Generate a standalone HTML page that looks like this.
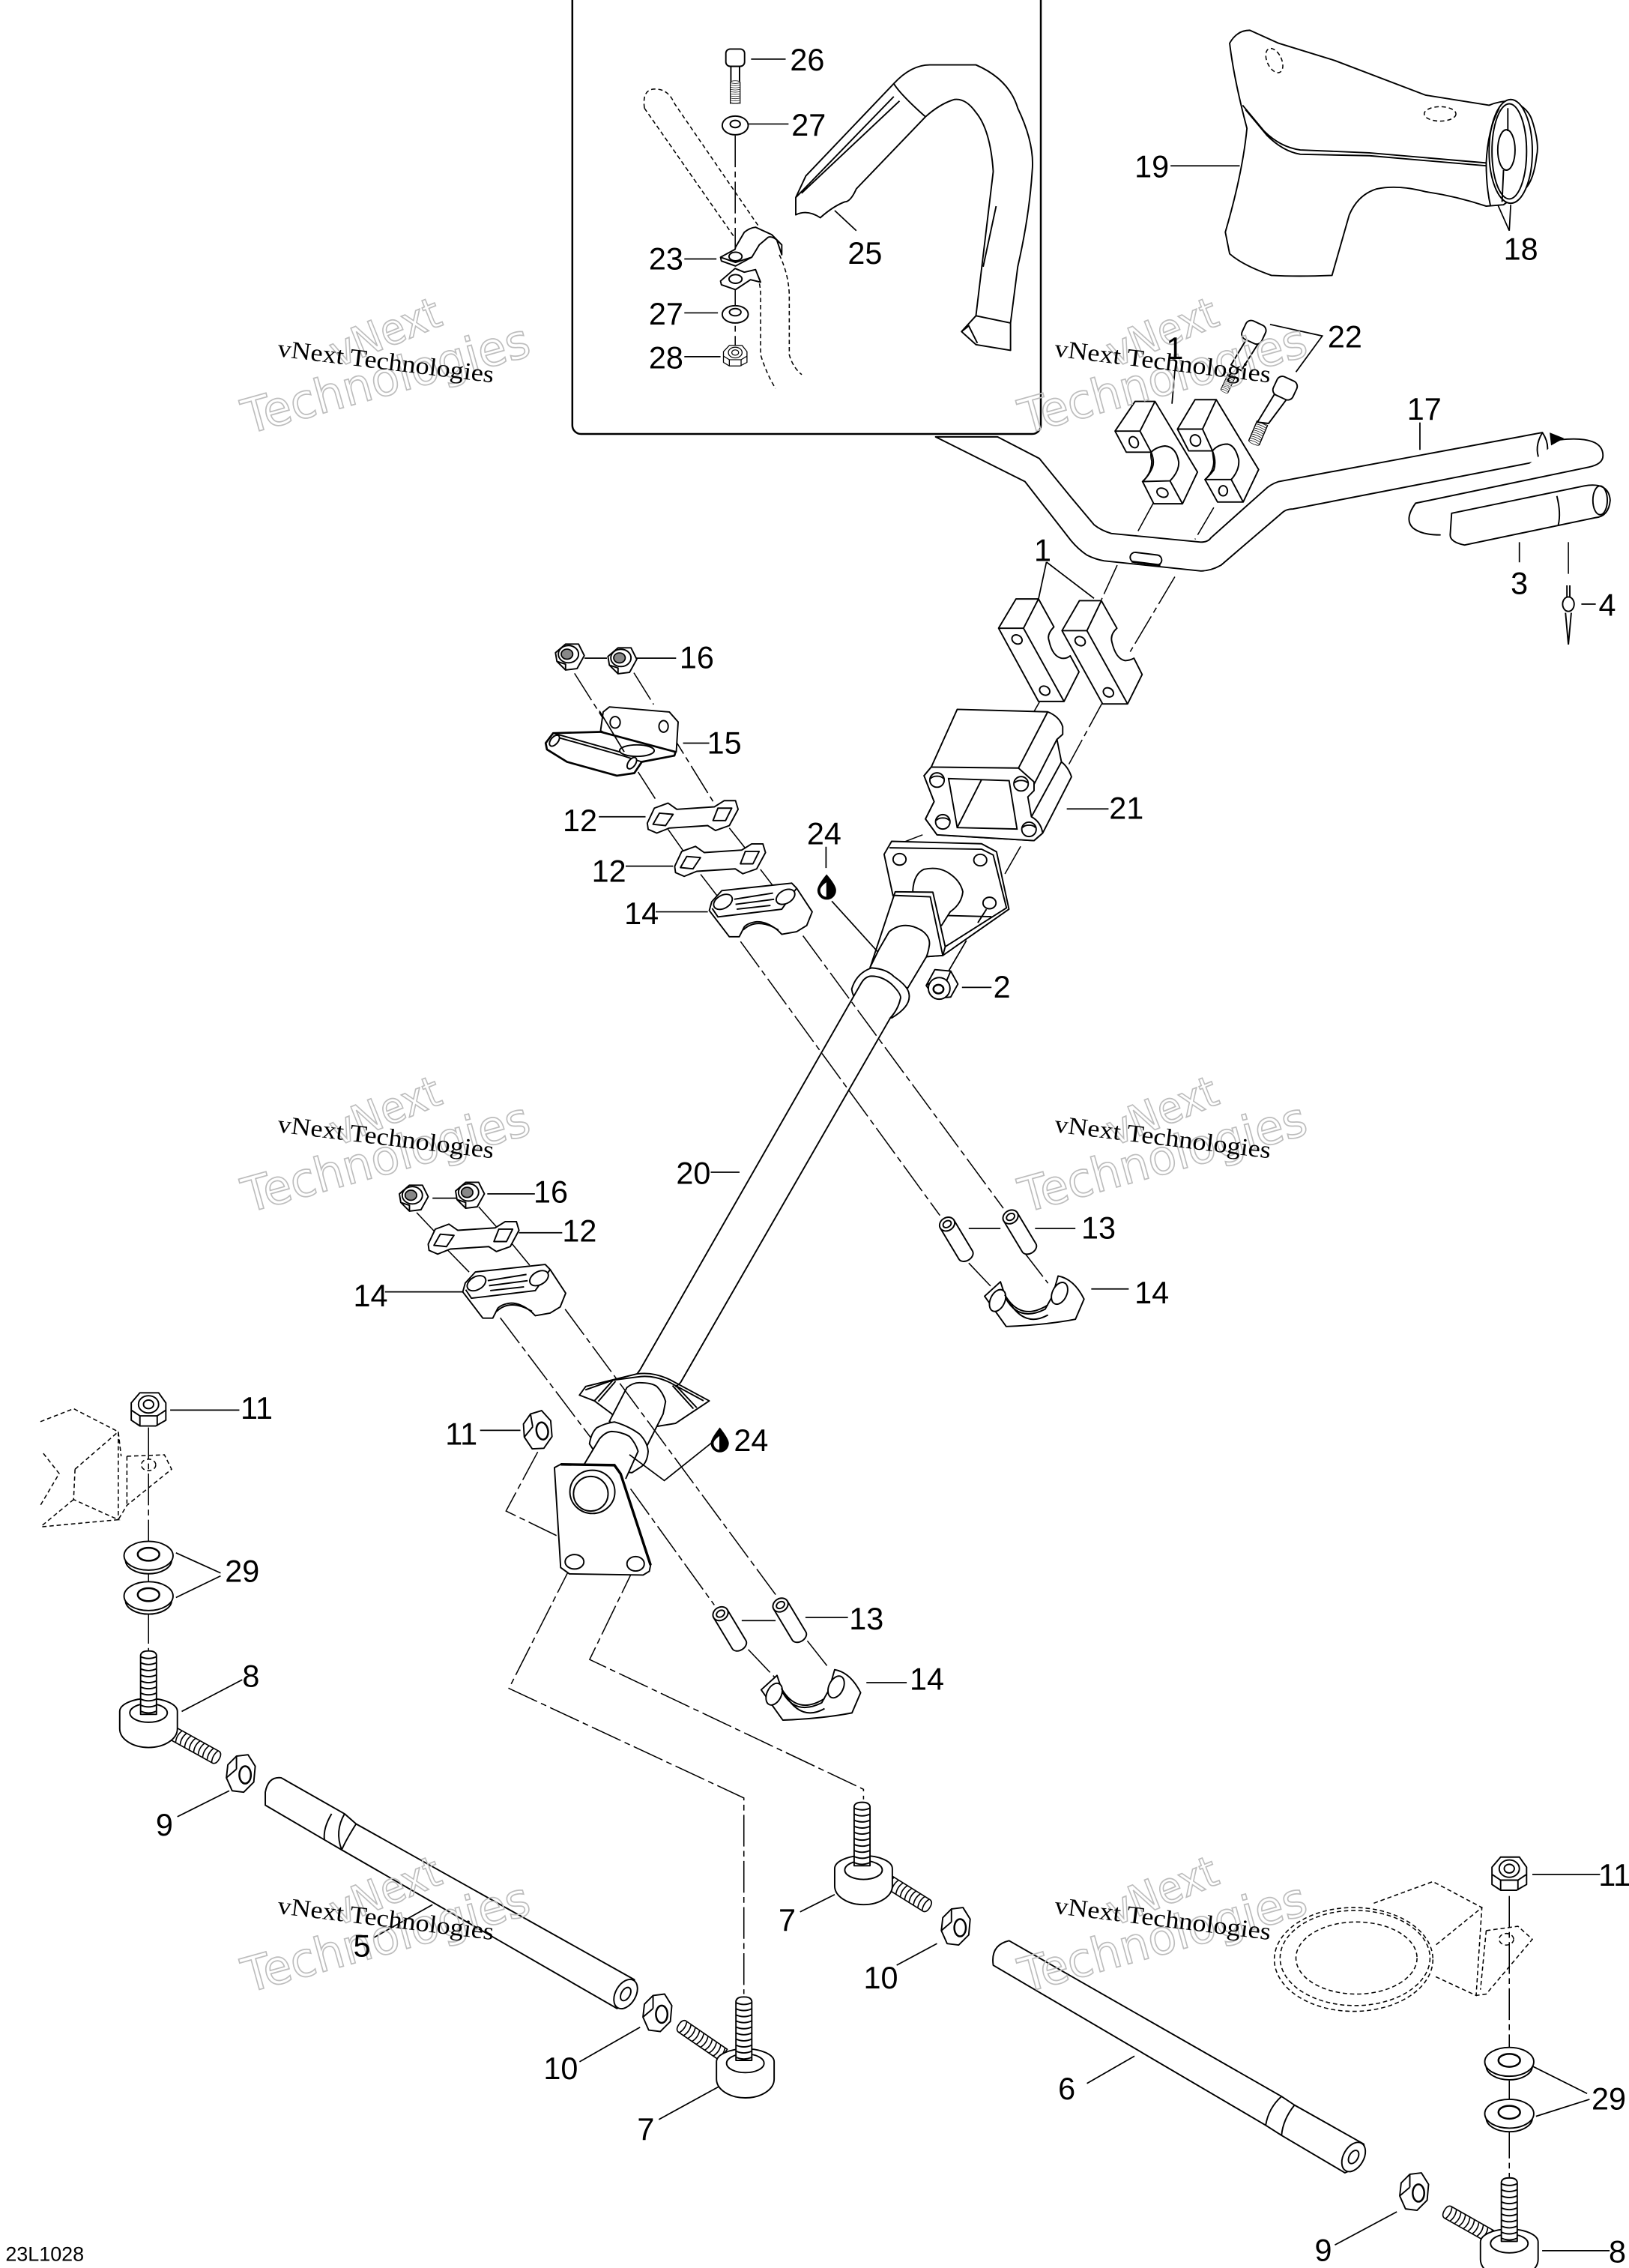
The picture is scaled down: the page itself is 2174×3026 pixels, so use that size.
<!DOCTYPE html>
<html><head><meta charset="utf-8"><style>
html,body{margin:0;padding:0;background:#fff;width:2174px;height:3026px;overflow:hidden}
svg{display:block}
.a{fill:#fff;stroke:#000;stroke-width:1;stroke-linejoin:round;stroke-linecap:round}
.n{fill:none;stroke:#000;stroke-width:1}
.l{fill:none;stroke:#000;stroke-width:.9}
.d{fill:none;stroke:#000;stroke-width:.8;stroke-dasharray:22 3 4 3}
.g{fill:none;stroke:#000;stroke-width:.8;stroke-dasharray:3 2}
.lb text{font-family:"Liberation Sans",sans-serif;font-size:21.5px;text-anchor:middle;fill:#000}
.w1{font-family:"Liberation Serif",serif;font-size:17px;fill:#000}
.w2{font-family:"DejaVu Sans","Liberation Sans",sans-serif;fill:none;stroke:#bdbdbd;stroke-width:.9}
</style></head><body>
<svg width="2174" height="3026" viewBox="0 0 1130 1573" xmlns="http://www.w3.org/2000/svg">
<defs>
<g id="nut"><polygon class="a" points="-5,-10 6,-9 11,0 6,9 -5,10 -11,1"/><circle class="a" cx="-2" cy="3" r="7.500"/><ellipse cx="-2.500" cy="3.500" rx="3.500" ry="3" fill="#fff" stroke="#000" stroke-width="1.300"/><line class="n" x1="6" y1="-9" x2="3" y2="-2"/><line class="n" x1="-11" y1="1" x2="-8" y2="-1"/></g>
<g id="nut16"><polygon class="a" points="-10,-3 -3,-9 6,-9 10,-1 5,8 -3,9 -9,3"/><ellipse class="n" cx="-1" cy="-2" rx="7" ry="6"/><ellipse cx="-2" cy="-2" rx="4" ry="3.500" fill="#888" stroke="#000" stroke-width=".9"/><polyline class="n" points="-9,3 -3,5 -3,9M-3,5 4,3 6,-1"/></g>
<g id="nuts"><polygon class="a" points="-3,-12 5,-13 10,-5 9,6 2,13 -6,12 -10,3 -9,-6"/><line class="n" x1="-10" y1="3" x2="-3" y2="-3"/><line class="n" x1="-3" y1="-12" x2="-3" y2="-3"/><ellipse cx="3" cy="1" rx="4" ry="6" fill="#fff" stroke="#000" stroke-width="1.300"/></g>
<g id="nutf"><polygon class="a" points="-12,-5 -6,-12 7,-12 12,-5 12,7 5,11 -6,11 -12,7"/><line class="n" x1="-6" y1="4" x2="-6" y2="11"/><line class="n" x1="6" y1="4" x2="6" y2="11"/><polyline class="n" points="-12,0 -6,4 6,4 12,0"/><ellipse class="a" cx="0" cy="-4" rx="7" ry="6"/><ellipse class="a" cx="0" cy="-4" rx="3.500" ry="3"/></g>
<g id="wash"><ellipse class="a" cx="0" cy="3" rx="16" ry="9.500"/><ellipse class="a" cx="0" cy="0" rx="17" ry="10"/><ellipse cx="0" cy="-1" rx="7.500" ry="4.500" fill="#fff" stroke="#000" stroke-width="1.300"/></g>
<g id="eye"><path class="a" d="M-20,0 v12 a20,13 0 0 0 40,0 v-12 a20,9 0 0 0 -40,0z"/><ellipse class="n" cx="0" cy="1" rx="13" ry="6.500"/></g>
<g id="th"><path class="a" d="M-5.500,3 Q-5,0 0,0 Q5,0 5.500,3 V44 H-5.500Z"/><path class="n" d="M-5.500,4q5.500,2.500 11,0M-5.500,8.200q5.500,2.500 11,0M-5.500,12.400q5.500,2.500 11,0M-5.500,16.600q5.500,2.500 11,0M-5.500,20.800q5.500,2.500 11,0M-5.500,25q5.500,2.500 11,0M-5.500,29.200q5.500,2.500 11,0M-5.500,33.400q5.500,2.500 11,0M-5.500,37.600q5.500,2.500 11,0M-5.500,41.800q5.500,2.500 11,0"/></g>
<g id="c14"><path class="a" d="M492,631.500 493.700,625.400 500.700,617.700 549.200,612.500 552.600,616 563.400,632.400 559.600,641.900 552.600,646.200 542.300,648 539.700,645.400 Q532,639 524.900,639.300 Q519,640 516.300,642.800 L512.800,649.700 505.900,649.700z"/><path class="n" d="M494,630 498,635.900 542.300,630.600 552.600,616M515.500,645Q525,636 540,645"/><ellipse class="a" cx="501.500" cy="625.500" rx="7" ry="4.500" transform="rotate(-30 501.500 625.500)"/><ellipse class="a" cx="544.900" cy="622" rx="7" ry="4.500" transform="rotate(-30 544.900 622)"/><path class="n" d="M509.300,623.700 536.200,619.400M510.200,627.200 537,623.700M511,630.600 534.500,628"/></g>
<g id="c12"><path class="a" d="M449,570.900 453.900,560.500 463.400,557 469.500,561.300 495.500,559.600 502.400,555.300 510.200,555.300 512,561.300 505.900,572.600 496.300,576 491,572.600 464.300,574.300 455.600,577.800 449.600,575.200z"/><polygon class="a" points="457.400,564 466.900,564.800 461.700,572.600 453,571.700"/><polygon class="a" points="498,560.500 507.600,560.500 503.300,569.100 494.600,569.100"/></g>
<g id="c14b"><path class="a" d="M528,1172 539,1162 543,1174 Q552,1190 570,1181 L575,1172 579,1158 Q590,1160 597,1174 L591,1188 Q570,1192 543,1193z"/><ellipse class="a" cx="537" cy="1175" rx="5" ry="8" transform="rotate(25 537 1175)"/><ellipse class="a" cx="580" cy="1170" rx="5" ry="8" transform="rotate(25 580 1170)"/><path class="n" d="M545,1176Q556,1194 572,1185M542,1171Q553,1190 572,1178"/></g>
<g id="sp"><path class="a" d="M-5.500,0 L-5.500,25 a5.500,4 0 0 0 11,0 L5.500,0 a5.500,4 0 0 0 -11,0z"/><ellipse class="a" cx="0" cy="0" rx="5.500" ry="4.500"/><ellipse class="n" cx="0" cy="0" rx="3" ry="2.200"/></g>
</defs>

<!-- handlebar 17 -->
<path class="a" d="M649,303 L711,334 L743,375 Q748,381 754,385 Q760,388 766,389 L833,396 Q840,396 847,392 L889,356 Q892,353 897,353 L1072,319 Q1076,309 1070,300 L887,334 Q881,336 877,340 L840,373 Q838,376 833,376 L771,370 Q764,368 759,364 L743,345 L721,318 L692,303z"/>
<rect x="784" y="384" width="22" height="7" rx="3.500" class="n" stroke-width="1.300" transform="rotate(7 795 387)"/>
<line x1="785" y1="389.500" x2="805" y2="392" stroke="#000" stroke-width="1.400"/>
<path class="n" d="M1070,300Q1064,310 1068,319"/>
<path class="a" d="M1082,305Q1112,302 1112,316Q1112,322 1102,324L982,349Q974,360 980,366Q986,371 999,371"/>
<polygon points="1075,300 1085,304 1076,309" fill="#000"/>
<path class="a" d="M1007,356 1099,337 Q1116,334 1117,347 Q1116,358 1107,359 L1016,378 Q1006,376 1006,371z"/>
<ellipse class="n" cx="1110" cy="347" rx="5" ry="10"/>
<path class="n" d="M1080,344 Q1083,356 1081,364"/>

<!-- upper clamps -->
<line class="d" x1="800" y1="349" x2="788" y2="371"/><line class="d" x1="842" y1="352" x2="829" y2="374"/>
<path class="a" d="M773.500,299 787.400,278.400 801.200,278.400 830.700,327.400 820.300,349.400 800.400,349.400 792.600,334 Q799,328 799,320 Q798,316 798.600,313.600 L781.300,313.600z"/>
<path class="a" d="M792.600,334 811.600,333.500 Q818,327 817.700,320.500 Q816,310 808.200,309.300 Q802,310 798.600,313.600 Q801,320 799.500,324 Q797,330 792.600,334z"/>
<path class="n" d="M773.500,299 790.800,299 801.200,278.400M790.800,299 798.600,313.600M811.600,333.500 820.300,349.400"/>
<ellipse class="n" cx="786.500" cy="306.700" rx="3" ry="4" transform="rotate(-25 786.500 306.700)"/><ellipse class="n" cx="806.400" cy="341.700" rx="4" ry="3" transform="rotate(25 806.400 341.700)"/>
<path class="a" d="M816.800,297.600 829,277.200 843.700,277.200 873.100,325.700 862.400,348.200 844.600,348.200 835.900,332.600 Q842,327 842,320 L841.100,312.700 824.600,312.700z"/>
<path class="a" d="M835.900,332.600 854.100,332.600 Q860,326 859.300,318.800 Q857,309 851.500,308 Q845,308 841.100,312.700 Q844,320 842,326 Q839,330 835.900,332.600z"/>
<path class="n" d="M816.800,297.600 834.200,297.600 843.700,277.200M834.200,297.600 841.100,312.700M854.100,332.600 862.400,348.200"/>
<ellipse class="n" cx="829.300" cy="305.500" rx="3.500" ry="4" transform="rotate(-25 829.300 305.500)"/><ellipse class="n" cx="848.500" cy="340.400" rx="3" ry="3.500"/>

<!-- bolts 22 -->
<path class="a" d="M864.500,235.600 854,253 L861,257 873,238z"/>
<rect class="a" x="862.500" y="223.500" width="15" height="14" rx="4" transform="rotate(25 870 230)"/>
<use href="#th" transform="translate(849,272) rotate(205) scale(.5,.3)"/>
<use href="#th" transform="translate(869.500,308) rotate(203) scale(.72,.36)"/>
<path class="a" d="M884.400,272.900 872.300,292.800 880,293.700 893,276.300z"/>
<rect class="a" x="884" y="262" width="15" height="14" rx="4" transform="rotate(25 891 269)"/>

<!-- inset box -->
<rect x="397" y="-8" width="325" height="309" rx="6" fill="#fff" stroke="#000" stroke-width="1.300"/>
<!-- bolt 26 -->
<rect class="a" x="503.500" y="34" width="13" height="12" rx="3"/><rect class="a" x="507" y="46" width="6" height="12"/>
<use href="#th" transform="translate(510,56) scale(.62,.36)"/>
<ellipse class="a" cx="510" cy="87" rx="9" ry="6.500"/><ellipse class="n" cx="510" cy="86" rx="3.500" ry="2.500"/>
<line class="d" x1="510" y1="94" x2="510" y2="172"/>
<path class="g" d="M447,75Q445,60 457,62Q464,63 468,72L526.700,157.600"/>
<path class="g" d="M447,75 509.400,164.500"/>
<path class="g" d="M540.600,176.700Q547,190 547.500,204.400L547.500,246Q550,255 556.200,259.800"/>
<path class="g" d="M524.100,187Q527,195 527.600,202.700L527.600,246Q532,260 538,269.400"/>
<!-- clamp 23 -->
<path class="a" d="M510.200,171.500 516.300,161.100 Q520,158 524.100,157.600 L535.400,162.800 542.300,169.800 542.300,176.700 538.800,166.300 Q535,163.500 532.800,164.600 L526.700,169.800 521.500,178.400 510.200,184.500 500.400,181 499.800,178.400 509.900,172.900z"/>
<path class="n" d="M499.800,178.400 510.200,182 521.500,178.400"/>
<ellipse class="n" cx="510.200" cy="177.900" rx="4.500" ry="3"/>
<path class="a" d="M499.800,194.900 509.900,186.200 516.300,188.800 524.100,187 527.600,195.700 520.600,194 510.200,200.900 500.400,197.500z"/>
<ellipse class="n" cx="510.200" cy="193.500" rx="4.500" ry="3"/>
<line class="d" x1="510" y1="201" x2="510" y2="240"/>
<ellipse class="a" cx="510" cy="218" rx="9" ry="6"/><ellipse class="n" cx="510" cy="216.500" rx="4" ry="2.500"/>
<use href="#nutf" transform="translate(510,247) scale(.68,.62)"/>
<!-- 25 -->
<path class="a" d="M559,122 620,58 Q632,45 645,45 L677,45 Q700,55 706,75 Q718,100 716,119 Q714,150 706,185 L701,224 701,243 677,239 667,230 677,219 689,119 Q687,90 677,78 Q670,68 662,69 Q652,72 642,81 L594,131 Q590,140 586,140 Q578,143 569,151 Q560,145 552,149 L552,137z"/>
<path class="n" d="M552,137 620,67M556,134 624,70M620,58 Q625,66 642,81"/>
<line class="n" x1="691" y1="143" x2="682" y2="185"/>
<path class="n" d="M677,219 701,224M667,230 672,226 678,238"/>
<line class="l" x1="579" y1="146" x2="594" y2="160"/>

<!-- grip 19 -->
<path class="a" d="M853,30 Q858,21 867,21 L887,30 926,42 989,66 1033,73 Q1040,70 1048,70 Q1060,74 1063,84 Q1068,100 1066,108 Q1064,125 1058,131 L1043,142 1031,143 Q1010,136 989,133 Q970,128 955,131 Q942,135 936,149 L924,191 Q900,192 882,191 Q862,184 853,176 L850,161 Q862,120 865,89 Q856,55 853,30z"/>
<path class="n" d="M862,73 877,91 Q888,102 902,104 L950,106 1031,113M864,76 879,94 Q890,105 902,107 L950,108 1031,115"/>
<ellipse class="a" cx="1048" cy="105" rx="15" ry="36"/><ellipse class="n" cx="1047" cy="105" rx="12" ry="33"/>
<ellipse class="n" cx="1045" cy="104" rx="6" ry="14"/>
<path class="n" d="M1046,75v16M1043,118 1042,140M1040,75Q1032,90 1031,113 Q1031,130 1034,143"/>
<ellipse class="g" cx="884" cy="42" rx="5" ry="9" transform="rotate(-25 884 42)"/>
<ellipse class="g" cx="999" cy="79" rx="11" ry="5"/>

<!-- long dashes (behind parts) -->
<line class="d" x1="775" y1="392" x2="764" y2="416"/><line class="d" x1="815" y1="400" x2="784" y2="452"/>
<line class="d" x1="766" y1="485" x2="741.500" y2="530"/><line class="d" x1="721" y1="487" x2="717" y2="494"/>
<line class="d" x1="708" y1="587" x2="696" y2="608"/>
<line class="d" x1="640" y1="579" x2="627" y2="584"/>
<polyline class="d" points="373,1007 351,1048 386,1065"/>
<polyline class="d" points="396.700,1085 353,1171 516,1247 516,1383"/>
<polyline class="d" points="441,1085 409,1151 599,1241 599,1248"/>
<line class="d" x1="103" y1="990" x2="103" y2="1150"/>
<line class="d" x1="1047" y1="1315" x2="1047" y2="1510"/>
<line class="d" x1="398.500" y1="467" x2="433" y2="521.500"/><line class="d" x1="439.700" y1="466.600" x2="453.400" y2="488.600"/>
<line class="d" x1="442.600" y1="535.400" x2="454.800" y2="554.400"/><line class="d" x1="462.600" y1="504" x2="494.600" y2="555.800"/>
<line class="d" x1="463.400" y1="575.200" x2="478.100" y2="596"/><line class="d" x1="505.900" y1="574.300" x2="522.300" y2="595"/>
<line class="d" x1="486" y1="606.400" x2="500.700" y2="625.500"/><line class="d" x1="527.500" y1="603" x2="540.500" y2="620"/>
<line class="d" x1="289" y1="841" x2="306" y2="859"/><line class="d" x1="332" y1="837" x2="345" y2="851.600"/>
<line class="d" x1="310" y1="866.500" x2="327.500" y2="884.400"/><line class="d" x1="353.400" y1="860.500" x2="370.600" y2="881.400"/>

<!-- lower clamps 1 -->
<path class="a" d="M692.700,435.700 704.800,415.400 720.400,415.400 731.100,434.800 Q726,440 727.700,444.400 Q730,455 736.300,456.500 Q740,457 742.400,454.800 L748.500,466 738.100,486.500 720.400,486.500z"/>
<path class="n" d="M692.700,435.700 710,435.700 720.400,415.400M710,435.700 738.100,486.500"/>
<ellipse class="n" cx="705.500" cy="443.500" rx="3.700" ry="3" transform="rotate(30 705.500 443.500)"/><ellipse class="n" cx="724.700" cy="479" rx="3.700" ry="3" transform="rotate(30 724.700 479)"/>
<path class="a" d="M736.700,437.400 748.800,416.600 764,416.600 774.800,435.700 Q770,440 771.300,445.200 Q774,457 780.500,458.200 Q784,458 786.600,456.500 L792.300,467.800 782.200,488.200 764.900,488.200z"/>
<path class="n" d="M736.700,437.400 754,437.400 764,416.600M754,437.400 782.200,488.200"/>
<ellipse class="n" cx="749.300" cy="444.700" rx="3.700" ry="3" transform="rotate(30 749.300 444.700)"/><ellipse class="n" cx="768.900" cy="480.200" rx="3.700" ry="3" transform="rotate(30 768.900 480.200)"/>

<!-- 21 -->
<path class="a" d="M664,492 726.800,493.700 Q735,497 737.200,504 L737.200,509.300 733.200,512.800 736.300,528.400 Q741,532 743.300,538.800 L723.300,577.800 717.300,583 650,579 642,568 648,556 641,538 646,532z"/>
<path class="a" d="M646,532 706.500,532.700 717.300,542.300 717.300,548.300 713,552.700 715.500,566.500 Q722,570 723.300,577.800 L717.300,583 650,579 642,568 648,556 641,538z"/>
<path class="n" d="M726.800,493.700 706.500,532.700M733.200,512.800 717.300,544M736.300,528.400 715.500,566.500"/>
<polygon class="n" points="658,540 700,541.400 705.500,575 664,574"/>
<line class="n" x1="681" y1="540.500" x2="664" y2="574"/>
<circle class="a" cx="650" cy="541" r="5"/><circle class="a" cx="708.300" cy="543.600" r="5"/><circle class="a" cx="654" cy="570" r="5"/><circle class="a" cx="713.800" cy="575.200" r="5"/>
<path class="n" d="M645.500,540a5,3 0 0 1 9,0M703.800,543a5,3 0 0 1 9,0M649.500,569a5,3 0 0 1 9,0M709.300,574a5,3 0 0 1 9,0"/>

<!-- upper flange -->
<path class="a" d="M613.300,592.500 618.500,583.500 680.900,585.200 691.300,590.800 699.900,630.600 654,662.700 642.700,663.500 619.400,621z" />
<path class="n" d="M617,588 681,589 689,593 698.200,629.700 655.700,656.600" stroke-width="1.200"/>
<ellipse class="a" cx="624" cy="596" rx="4.500" ry="4"/><ellipse class="a" cx="680" cy="596.500" rx="4.500" ry="4"/><ellipse class="a" cx="686.400" cy="626.300" rx="4.500" ry="4"/>
<path class="a" d="M633.200,617.600 Q634,606 641,602.900 Q650,601 656.600,604.600 Q666,610 667.900,618.500 Q667,627 659.200,632.300 L653.100,641.900 636,640z"/>
<path class="n" d="M657.500,635 687.800,635.800M684.300,630.600 678.300,640"/>
<path class="a" d="M621,618.500 647.100,618.800 655.700,656.600 654,662.700 642.700,663.500 603.800,670.400z"/>
<path class="n" d="M619.400,621 645.300,622 654,662.700"/>
<!-- leader 24 under -->
<line class="l" x1="577" y1="625" x2="616" y2="668"/>
<path class="a" d="M603.800,670.400 609.800,658.300 616.800,646.200 Q627,638 639.300,645.300 Q646,650 644.500,656.600 Q644,660 642.700,663.500 L629.700,685.200 600,682z"/>
<path class="a" d="M590.800,686 Q594,675 604.600,671.300 Q615,672 620.200,677.400 Q630,684 630.600,689.500 Q632,698 618.500,706 L604,700 Q592,696 590.800,686z"/>
<path d="M597,682.600 Q600,677 604.600,677 Q612,677 618.500,682.600 Q626,690 624.500,693 Q623,700 617.600,706 L606,704 590,695z" fill="#fff"/>
<path class="n" d="M444,950 597,682.600 Q600,677 604.600,677 Q612,677 618.500,682.600 Q626,690 624.500,693 Q623,700 617.600,706 L472,959"/>
<line class="l" x1="658.300" y1="673" x2="670.400" y2="652.300"/>
<use href="#nut" transform="translate(653.500,682.500)"/>

<!-- X dashes over tube -->
<line class="d" x1="513.700" y1="653" x2="652" y2="843"/>
<line class="d" x1="557" y1="649" x2="696" y2="838"/>
<line class="d" x1="672" y1="876" x2="690" y2="895"/><line class="d" x1="710" y1="868" x2="727" y2="890"/>

<!-- 15 -->
<path class="a" d="M416.600,506.800 418.400,493.800 422.700,490.300 464.300,493.800 470.400,500.700 469.100,521.500 435,517z"/>
<ellipse class="a" cx="426.700" cy="501" rx="3.500" ry="4"/><ellipse class="a" cx="460.300" cy="503.800" rx="3.200" ry="4"/>
<path class="a" d="M383.700,508.500 416.600,507.600 468.600,521.500 467.800,524.100 445.200,528.400 440,536.200 427.900,538 393.300,528.400 379.400,519.800 378.500,515.400z" style="stroke-width:1.400"/>
<path class="n" d="M383.700,510.500 433.100,524.500 445.200,528.400M383.700,508.500 433.100,522.400" stroke-width="1.200"/>
<ellipse class="a" cx="441.800" cy="520.600" rx="12" ry="4"/><ellipse class="a" cx="438.300" cy="529.300" rx="2.500" ry="4.500" transform="rotate(35 438.300 529.300)"/><ellipse class="a" cx="384.600" cy="513.700" rx="2.500" ry="4.500" transform="rotate(40 384.600 513.700)"/>
<path class="n" d="M393.300,528.400 427.900,538" stroke-width="1.800"/>
<line class="l" x1="415.800" y1="493" x2="433" y2="521.500"/>
<use href="#c12"/><use href="#c12" transform="translate(19,30)"/><use href="#c14"/>
<use href="#c12" transform="translate(-152,292)"/><use href="#c14" transform="translate(-171,264.500)"/>
<use href="#nut16" transform="translate(395.300,455.700)"/><use href="#nut16" transform="translate(431.700,458.300)"/>
<use href="#nut16" transform="translate(287,831)"/><use href="#nut16" transform="translate(326,829)"/>

<!-- lower saddle -->
<path class="a" d="M401.900,967.600 406.300,961.600 441.800,952.900 Q455,951 468.600,959 L492,971.600 468.600,987.200 455.600,989.300 436,1000 424.400,980.600 412.300,971.600z"/>
<path class="n" d="M406,964 425.300,957.200 442,955 Q455,953 468.600,961 L488,971.500M412.300,971.600 425.300,957.200M483.300,976.300 468.600,960.700M415,972 427,958M481,977 466.500,961"/>
<path class="a" d="M434.800,962.400 Q439,959 443.500,959 Q452,959 455.600,961.600 Q460,966 461.700,972 L460,980.600 448.700,1003 422.700,985.800z"/>
<path class="a" d="M408.900,1001.400 Q410,994 414,990.200 Q420,987 426.200,986.200 Q436,989 443.500,994.500 Q449,1000 449.600,1006.600 Q449,1014 445.200,1017 L438.300,1021.400 Q420,1020 408.900,1001.400z"/>
<path d="M415.800,998 Q420,993 424.400,992.800 Q431,993 436.600,996.200 Q441,1001 442.600,1006.600 L434,1025.700 405.400,1015.300z" fill="#fff"/>
<path class="n" d="M405.400,1015.300 415.800,998 Q420,993 424.400,992.800 Q431,993 436.600,996.200 Q441,1001 442.600,1006.600 L434,1025.700"/>
<path class="n" d="M444,950 441.800,953M472,959 468.600,962"/>
<path class="a" d="M384.600,1017.900 388.900,1015.600 426.200,1016.200 430.500,1022.200 451.300,1085.500 450.400,1089.800 446.100,1092.400 395,1091.600 388.900,1087.200z"/>
<path d="M388.900,1015.600 426.200,1016.200 430.500,1022.200 451.300,1085.500" fill="none" stroke="#000" stroke-width="1.800"/>
<ellipse class="a" cx="410.900" cy="1034.700" rx="15.600" ry="15"/><ellipse class="a" cx="409.800" cy="1036" rx="12" ry="12"/>
<ellipse class="a" cx="398.500" cy="1083.200" rx="6.500" ry="5"/><ellipse class="a" cx="440.900" cy="1084.600" rx="6" ry="5"/>
<use href="#nuts" transform="translate(373,992) rotate(-10)"/>
<line class="d" x1="347" y1="914" x2="409.700" y2="997"/>
<line class="d" x1="392" y1="908" x2="541" y2="1110"/>
<line class="d" x1="437.400" y1="1032.600" x2="495.500" y2="1113.200"/>

<!-- spacers -->
<use href="#sp" transform="translate(657,849) rotate(-31)"/>
<use href="#sp" transform="translate(701,844) rotate(-31)"/>
<use href="#sp" transform="translate(499.800,1119.200) rotate(-31)"/>
<use href="#sp" transform="translate(541.400,1113.200) rotate(-31)"/>
<line class="d" x1="519" y1="1144" x2="539" y2="1165"/><line class="d" x1="560" y1="1138" x2="575" y2="1157"/>
<use href="#c14b"/><use href="#c14b" transform="translate(155,-273)"/>

<!-- left hardware -->
<use href="#nutf" transform="translate(103,978)"/>
<path class="g" d="M28,986 51,977 82,993 84,1010 M52,1019 82,993 M52,1019 51,1040 82,1054 28,1059 M51,1040 28,1059 M82,993 82,1054 M88,1010 114,1009 119,1019 88,1044 82,1054 M88,1010 88,1044 M30,1008 41,1022 28,1044"/>
<ellipse class="g" cx="103" cy="1016" rx="5" ry="4"/>
<use href="#wash" transform="translate(103,1079)"/><use href="#wash" transform="translate(103,1107)"/>
<use href="#th" transform="translate(152,1220) rotate(119) scale(.85,.85)"/>
<use href="#eye" transform="translate(103,1187)"/>
<use href="#th" transform="translate(103,1145)"/>
<use href="#nuts" transform="translate(167,1230)"/>

<!-- tube 5 -->
<path class="a" d="M184,1243 Q186,1232 195,1233 L239,1258 247,1265 440,1373 Q443,1385 428,1393 L237,1283 225,1276 184,1252z"/>
<ellipse class="a" cx="434" cy="1383" rx="7" ry="11" transform="rotate(30 434 1383)"/><ellipse class="n" cx="434" cy="1383" rx="3" ry="5" transform="rotate(30 434 1383)"/>
<path class="n" d="M230,1258 Q224,1268 225,1276M239,1258 Q232,1270 237,1283M247,1265 Q240,1276 237,1283"/>
<use href="#nuts" transform="translate(456,1396)"/>
<use href="#th" transform="translate(471,1404) rotate(-55.500) scale(.85,.85)"/>
<use href="#eye" transform="translate(517,1430)"/>
<use href="#th" transform="translate(516,1385)"/>

<!-- second joint -->
<use href="#th" transform="translate(645,1323) rotate(122) scale(.85,.85)"/>
<use href="#eye" transform="translate(599,1296)"/>
<use href="#th" transform="translate(598,1250)"/>
<use href="#nuts" transform="translate(663,1336)"/>

<!-- tube 6 -->
<path class="a" d="M689,1363 Q687,1349 700,1346 L889,1454 898,1460 946,1487 Q950,1500 933,1507 L889,1481 878,1474z"/>
<ellipse class="a" cx="939" cy="1496" rx="7" ry="11" transform="rotate(30 939 1496)"/><ellipse class="n" cx="939" cy="1496" rx="3" ry="5" transform="rotate(30 939 1496)"/>
<path class="n" d="M889,1454 Q880,1462 878,1474M898,1460 Q890,1470 889,1481"/>

<!-- right hardware -->
<g class="g">
<ellipse cx="939" cy="1359" rx="55" ry="36"/><ellipse cx="940" cy="1358" rx="52" ry="33"/><ellipse cx="941" cy="1358" rx="42" ry="25"/>
<path d="M953,1320 994,1305 1028,1323 996,1349M996,1371 1024,1384 1028,1323 M1031,1339 1053,1336 1063,1345 1031,1383 1024,1384 M1031,1339 1027,1380"/>
</g>
<ellipse class="g" cx="1045" cy="1345" rx="5" ry="4"/>
<use href="#nutf" transform="translate(1047,1300)"/>
<use href="#wash" transform="translate(1047,1430)"/><use href="#wash" transform="translate(1047,1466)"/>
<use href="#nuts" transform="translate(981,1520)"/>
<use href="#th" transform="translate(1002,1533) rotate(-60.500) scale(.85,.85)"/>
<use href="#eye" transform="translate(1047,1555)"/>
<use href="#th" transform="translate(1047,1510.500)"/>

<!-- rivet 4 -->
<line class="d" x1="1088" y1="376" x2="1088" y2="400"/>
<path class="n" d="M1087,406V414M1089,406V414M1086,425 1088,447 1090,425"/>
<ellipse class="a" cx="1088" cy="419" rx="4" ry="5"/>
<!-- drops -->
<path d="M573.400,606.400Q567,614 567,617.500 A6.400,6.400 0 0 0 580,617.500 Q580,614 573.400,606.400z" fill="#000"/><path d="M573.200,612Q569,615 569,617.500 A4.500,4.500 0 0 0 573.200,622z" fill="#fff"/>
<path d="M499.300,990Q493,998 493,1001 A6.300,6.300 0 0 0 505.600,1001 Q505.600,998 499.300,990z" fill="#000"/><path d="M499,996Q495,999 495,1001 A4.500,4.500 0 0 0 499,1005.500z" fill="#fff"/>

<!-- leaders -->
<g class="l">
<path d="M521,41H545M519,86H547M474.700,179.600H497M474.700,217H498M474.700,247.400H499.800M812,115H860"/>
<path d="M1039,142 1047,160M1048,142 1047,160"/>
<path d="M881,225 917.300,233 899,258M815,257 813,280M985,293V312M1054,376V390M1097,419H1107"/>
<path d="M725.900,389.800 720.400,415.400M725.900,389.800 758.900,415"/>
<path d="M441,456.500H469M405.400,456.500H421M473.800,515.400H492M415.400,566.500H447.800M434,600.700H466.900M454.800,632.400H491"/>
<path d="M573,587.300V602M740,561H769M667.300,684.800H687.800M493,813H513M718,852H746M672,852H694"/>
<path d="M338,828H371M300,831H317M360,855H390M267,896H321M558.700,1121.800H588.200M514.500,1124H538M601,1167H629M757,894H783"/>
<path d="M118,978H166M333,992H361M436.600,1008.900 460.800,1026.900 493.700,1000.600"/>
<path d="M122,1077 153,1091M122,1108 153,1093M126,1187 168,1165M159,1242 123,1260M300,1321 259,1344"/>
<path d="M444,1406 402,1430M499,1447 457,1470M579,1314 555,1326M650,1348 622,1363M787,1426 754,1445"/>
<path d="M1063,1300H1110M1063,1433 1101,1452M1065.500,1467.800 1102.700,1456M969,1534 926,1557M1069.800,1561H1116.600"/>
</g>

<!-- watermarks -->
<text class="w2" font-size="30" textLength="80" lengthAdjust="spacingAndGlyphs" transform="translate(234,255) rotate(-22)">vNext</text>
<text class="w2" font-size="33" textLength="205" lengthAdjust="spacingAndGlyphs" transform="translate(172,301) rotate(-15.500)">Technologies</text>
<text class="w1" textLength="151" lengthAdjust="spacingAndGlyphs" transform="translate(192,247) rotate(7)">vNext Technologies</text>

<text class="w2" font-size="30" textLength="80" lengthAdjust="spacingAndGlyphs" transform="translate(773,255) rotate(-22)">vNext</text>
<text class="w2" font-size="33" textLength="205" lengthAdjust="spacingAndGlyphs" transform="translate(711,301) rotate(-15.500)">Technologies</text>
<text class="w1" textLength="151" lengthAdjust="spacingAndGlyphs" transform="translate(731,247) rotate(7)">vNext Technologies</text>

<text class="w2" font-size="30" textLength="80" lengthAdjust="spacingAndGlyphs" transform="translate(234,795) rotate(-22)">vNext</text>
<text class="w2" font-size="33" textLength="205" lengthAdjust="spacingAndGlyphs" transform="translate(172,841) rotate(-15.500)">Technologies</text>
<text class="w1" textLength="151" lengthAdjust="spacingAndGlyphs" transform="translate(192,785) rotate(7)">vNext Technologies</text>

<text class="w2" font-size="30" textLength="80" lengthAdjust="spacingAndGlyphs" transform="translate(773,795) rotate(-22)">vNext</text>
<text class="w2" font-size="33" textLength="205" lengthAdjust="spacingAndGlyphs" transform="translate(711,841) rotate(-15.500)">Technologies</text>
<text class="w1" textLength="151" lengthAdjust="spacingAndGlyphs" transform="translate(731,785) rotate(7)">vNext Technologies</text>

<text class="w2" font-size="30" textLength="80" lengthAdjust="spacingAndGlyphs" transform="translate(234,1336) rotate(-22)">vNext</text>
<text class="w2" font-size="33" textLength="205" lengthAdjust="spacingAndGlyphs" transform="translate(172,1382) rotate(-15.500)">Technologies</text>
<text class="w1" textLength="151" lengthAdjust="spacingAndGlyphs" transform="translate(192,1327) rotate(7)">vNext Technologies</text>

<text class="w2" font-size="30" textLength="80" lengthAdjust="spacingAndGlyphs" transform="translate(773,1336) rotate(-22)">vNext</text>
<text class="w2" font-size="33" textLength="205" lengthAdjust="spacingAndGlyphs" transform="translate(711,1382) rotate(-15.500)">Technologies</text>
<text class="w1" textLength="151" lengthAdjust="spacingAndGlyphs" transform="translate(731,1327) rotate(7)">vNext Technologies</text>

<!-- labels -->
<g class="lb">
<text x="560" y="49">26</text><text x="561" y="94">27</text><text x="600" y="183">25</text>
<text x="462" y="187">23</text><text x="462" y="225">27</text><text x="462" y="255.500">28</text>
<text x="799" y="123">19</text><text x="1055" y="180">18</text><text x="933" y="241">22</text>
<text x="815" y="249">1</text><text x="988" y="291">17</text><text x="1054" y="412">3</text>
<text x="1115" y="427">4</text><text x="723.300" y="389">1</text><text x="483.300" y="463.400">16</text>
<text x="502.400" y="522.700">15</text><text x="402.300" y="576.600">12</text><text x="422.400" y="611.500">12</text>
<text x="445" y="641">14</text><text x="571.700" y="585.500">24</text><text x="781.400" y="568">21</text>
<text x="695" y="692">2</text><text x="481" y="821">20</text><text x="382" y="834">16</text>
<text x="402" y="861">12</text><text x="257" y="906">14</text><text x="762" y="859">13</text>
<text x="799" y="904">14</text><text x="178" y="984">11</text><text x="320" y="1002">11</text>
<text x="521" y="1006.500">24</text><text x="168" y="1097">29</text><text x="174" y="1170">8</text>
<text x="601" y="1130">13</text><text x="643" y="1172">14</text><text x="114" y="1273">9</text>
<text x="251" y="1357">5</text><text x="546" y="1339">7</text><text x="611" y="1379">10</text>
<text x="1120" y="1308">11</text><text x="389" y="1442">10</text><text x="448" y="1484">7</text>
<text x="740" y="1456">6</text><text x="1116" y="1463">29</text><text x="918" y="1568">9</text>
<text x="1122" y="1569">8</text>
<text x="31" y="1568" style="font-size:14px">23L1028</text>
</g>
</svg>
</body></html>
